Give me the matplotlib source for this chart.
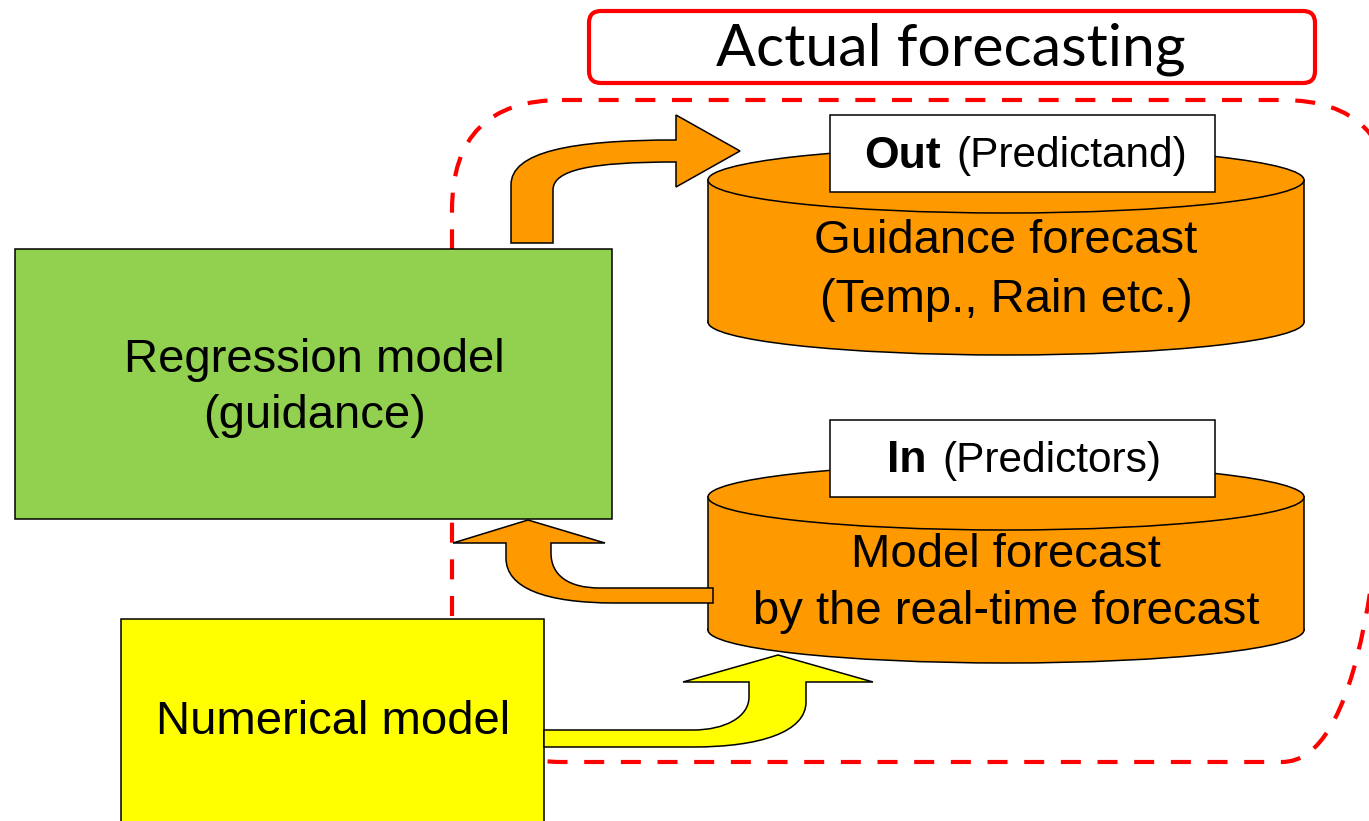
import matplotlib.pyplot as plt
from matplotlib.patches import Rectangle, Ellipse, FancyBboxPatch, PathPatch
from matplotlib.path import Path

# labels
title_text = "Actual forecasting"
box_labels = ["Regression model\n(guidance)", "Numerical model"]
cyl_labels = [("Guidance forecast", "(Temp., Rain etc.)"),
              ("Model forecast", "by the real-time forecast")]
tag_bold = ["Out", "In"]
tag_rest = ["(Predictand)", "(Predictors)"]

ORANGE = "#FF9900"
GREEN = "#92D050"
YELLOW = "#FFFF00"
RED = "#FF0000"

W, H = 1369, 821
fig = plt.figure(figsize=(W / 100, H / 100), dpi=100)
ax = fig.add_axes([0, 0, 1, 1])
ax.set_xlim(0, W)
ax.set_ylim(H, 0)
ax.set_aspect("equal")
ax.axis("off")

sans = "Liberation Sans"
FS = 34

# dashed region "actual forecasting"
dash = FancyBboxPatch((452, 100), 940, 662, boxstyle="round,pad=0,rounding_size=110",
                      fill=False, ec=RED, lw=3, linestyle=(0, (4.8, 4.0)), zorder=1)
ax.add_patch(dash)

# title box
tb = FancyBboxPatch((589, 11), 726, 72, boxstyle="round,pad=0,rounding_size=12",
                    fc="white", ec=RED, lw=3, zorder=2)
ax.add_patch(tb)
ax.text(951, 49, title_text, ha="center", va="center", fontsize=42.5, family="Lato", zorder=3)

# boxes
ax.add_patch(Rectangle((15, 249), 597, 270, fc=GREEN, ec="black", lw=1.1, zorder=3))
ax.text(314, 388, box_labels[0], ha="center", va="center", fontsize=FS, family=sans,
        linespacing=1.36, zorder=4)
ax.add_patch(Rectangle((121, 619), 423, 220, fc=YELLOW, ec="black", lw=1.1, zorder=3))
ax.text(333, 722, box_labels[1], ha="center", va="center", fontsize=FS, family=sans, zorder=4)


def cylinder(cx, hw, ytop, ybot, ry):
    ax.add_patch(Ellipse((cx, ybot), 2 * hw, 2 * ry, fc=ORANGE, ec="black", lw=1.1, zorder=3))
    ax.add_patch(Rectangle((cx - hw, ytop), 2 * hw, ybot - ytop, fc=ORANGE, ec="none", zorder=3))
    ax.plot([cx - hw, cx - hw], [ytop, ybot], color="black", lw=1.1, zorder=3)
    ax.plot([cx + hw, cx + hw], [ytop, ybot], color="black", lw=1.1, zorder=3)
    ax.add_patch(Ellipse((cx, ytop), 2 * hw, 2 * ry, fc=ORANGE, ec="black", lw=1.1, zorder=3))


cylinder(1006, 298, 180, 322, 33)
cylinder(1006, 298, 497, 630, 33)

ax.text(1006, 241, cyl_labels[0][0], ha="center", va="center", fontsize=FS, family=sans, zorder=4)
ax.text(1006, 300, cyl_labels[0][1], ha="center", va="center", fontsize=FS, family=sans, zorder=4)
ax.text(1006, 555, cyl_labels[1][0], ha="center", va="center", fontsize=FS, family=sans, zorder=4)
ax.text(1006, 612, cyl_labels[1][1], ha="center", va="center", fontsize=FS, family=sans, zorder=4)

# white tag boxes
for y0, bx, rx, b, r in [(115, 941, 956, tag_bold[0], tag_rest[0]),
                         (420, 926, 942, tag_bold[1], tag_rest[1])]:
    ax.add_patch(Rectangle((830, y0), 385, 77, fc="white", ec="black", lw=1.1, zorder=5))
    ax.text(bx, y0 + 41, b, ha="right", va="center", fontsize=32, family=sans,
            weight="bold", zorder=6)
    ax.text(rx, y0 + 41, r, ha="left", va="center", fontsize=30.5, family=sans, zorder=6)

M, L, C = Path.MOVETO, Path.LINETO, Path.CURVE4


def arrow(pts, codes, fc):
    codes = list(codes) + [Path.CLOSEPOLY]
    pts = list(pts) + [pts[0]]
    ax.add_patch(PathPatch(Path(pts, codes), fc=fc, ec="black", lw=1.1, zorder=4))


# regression -> guidance forecast
arrow([(511, 243), (511, 185), (511, 152), (570, 140), (676, 140), (676, 115), (740, 151),
       (676, 187), (676, 162), (590, 162), (553, 170), (553, 190), (553, 243)],
      [M, L, C, C, C, L, L, L, L, C, C, C, L], ORANGE)

# model forecast -> regression
arrow([(713, 588), (600, 588), (568, 588), (551, 575), (551, 553), (551, 543), (605, 543),
       (528, 520), (453, 543), (506, 543), (506, 558), (506, 588), (545, 603), (615, 603),
       (713, 603)],
      [M, L, C, C, C, L, L, L, L, L, L, C, C, C, L], ORANGE)

# numerical model -> model forecast
arrow([(544, 730), (693, 730), (725, 730), (749, 717), (749, 697), (749, 682), (683, 682),
       (778, 655), (873, 682), (806, 682), (806, 702), (806, 732), (760, 747), (693, 747),
       (544, 747)],
      [M, L, C, C, C, L, L, L, L, L, L, C, C, C, L], YELLOW)

fig.savefig("out.png", dpi=100)
